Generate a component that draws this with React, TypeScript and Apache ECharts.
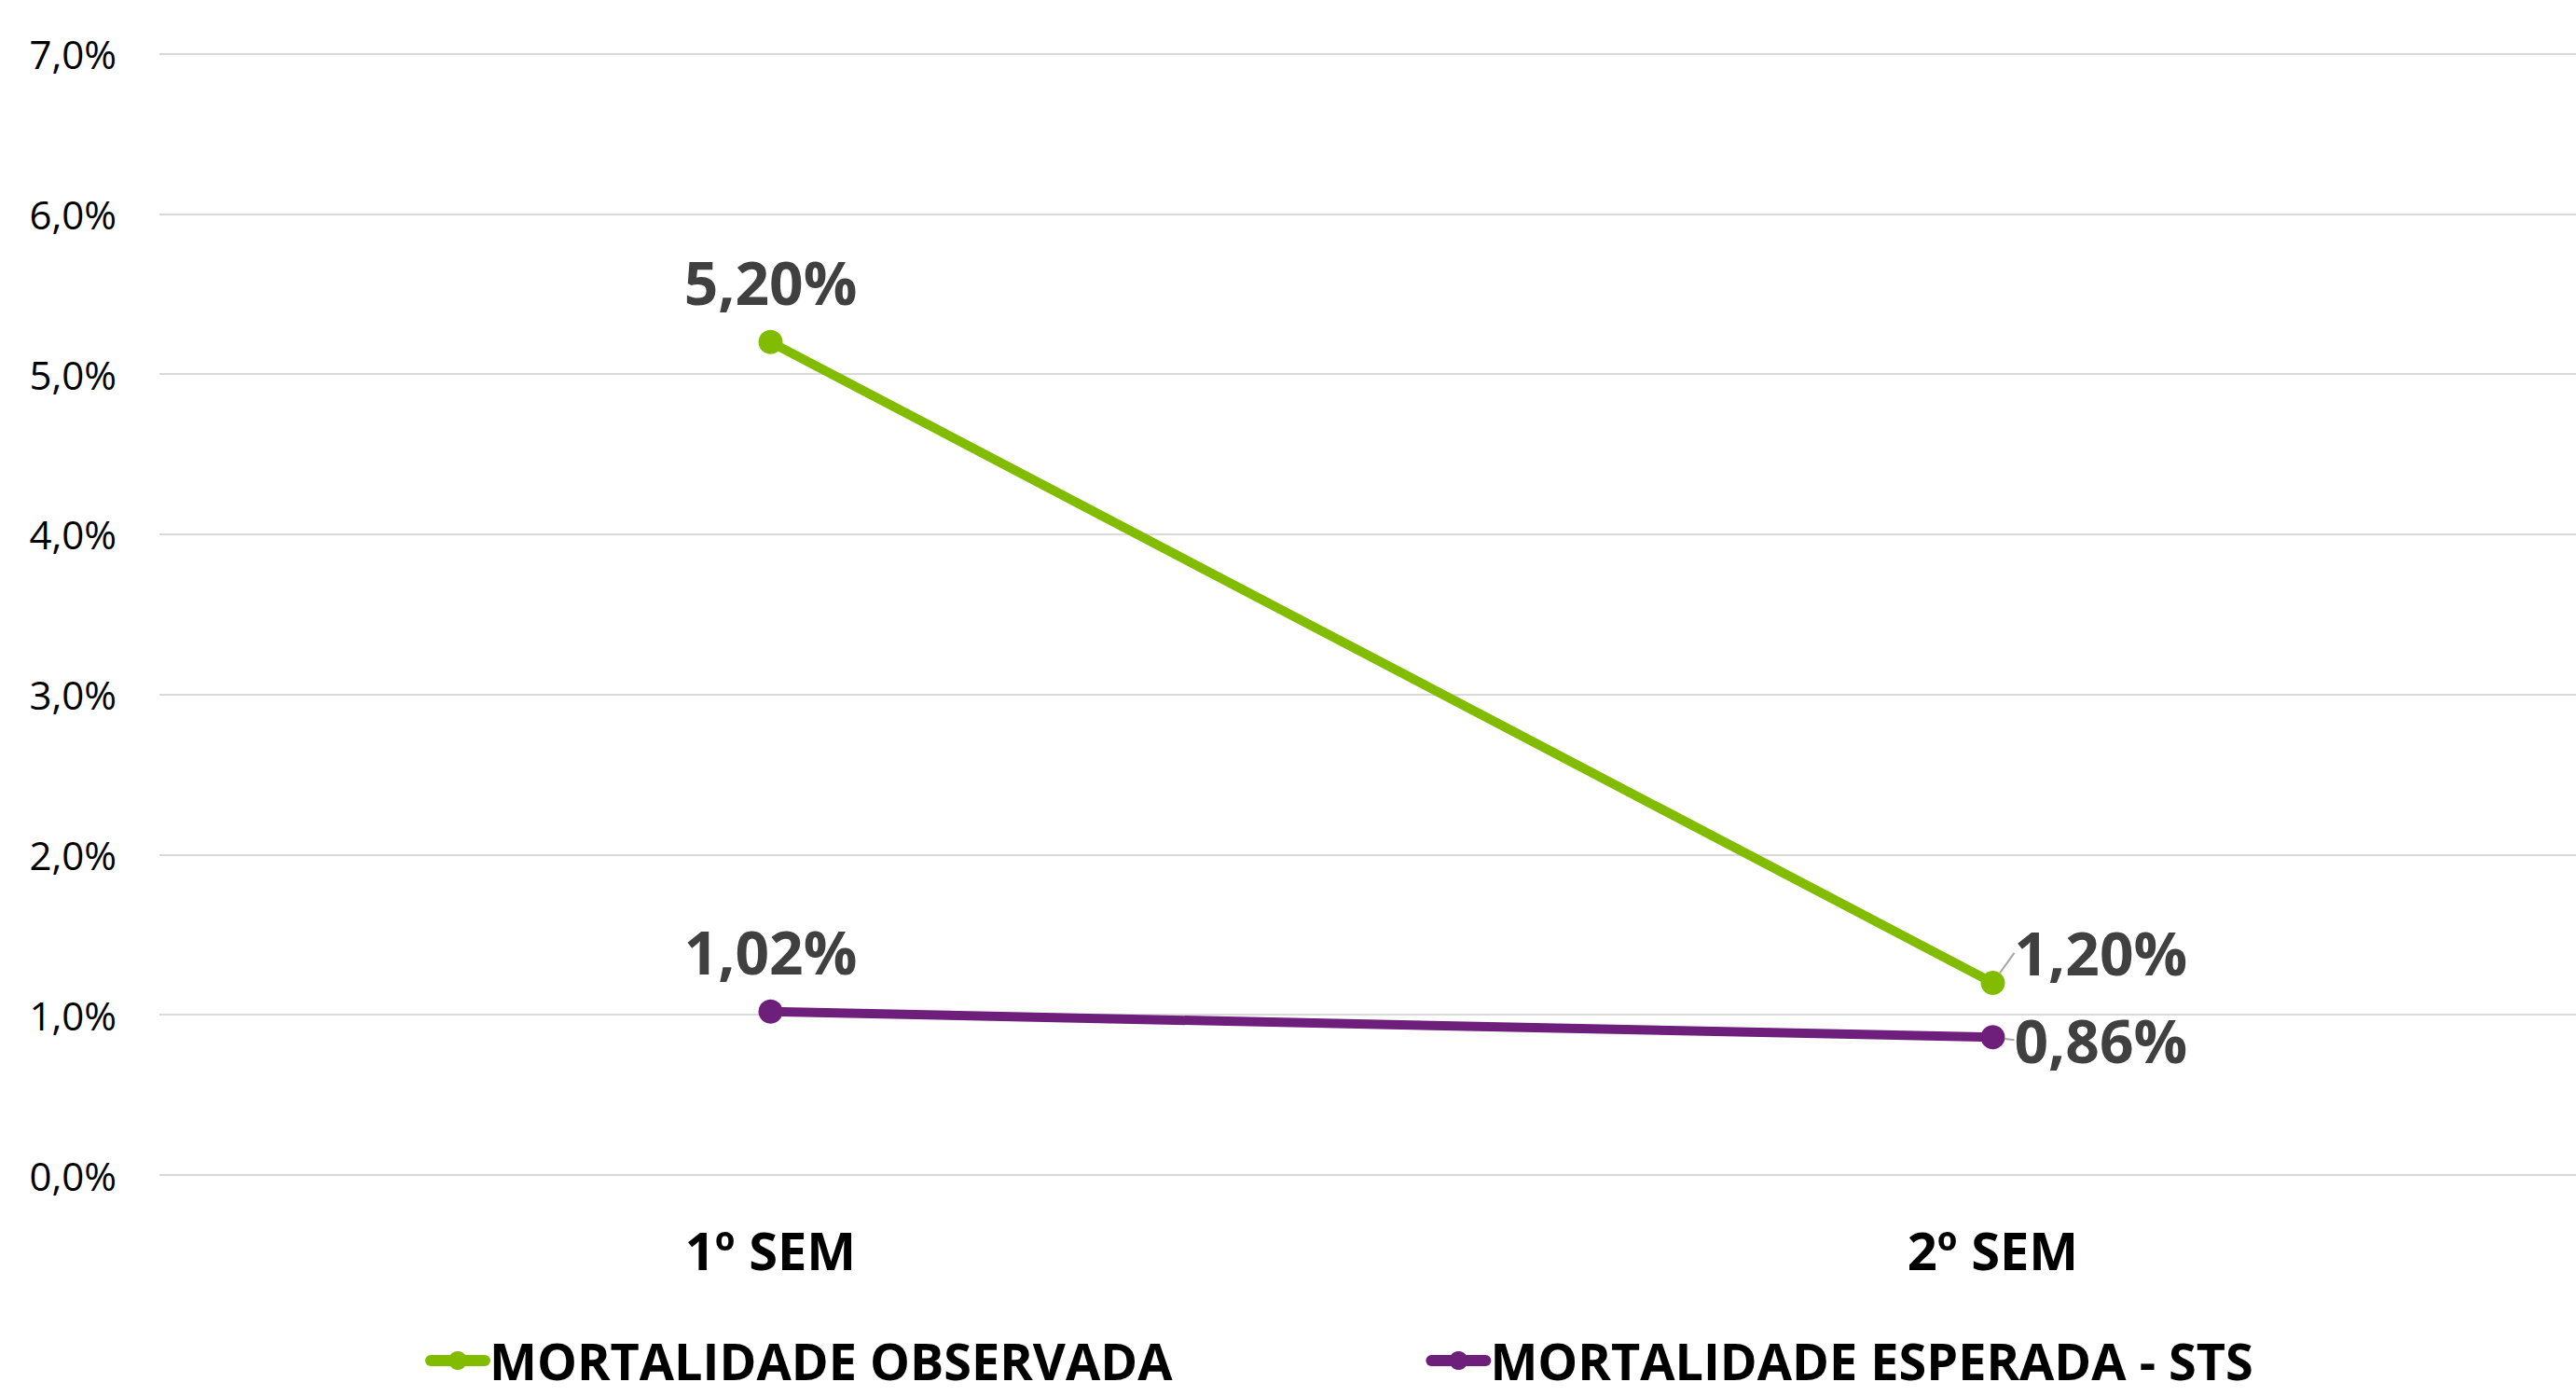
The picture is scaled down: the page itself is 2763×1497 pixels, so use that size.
import React, { useEffect, useRef } from "react";
import * as echarts from "echarts";

const categories = ["1º SEM", "2º SEM"];
const observada = [5.2, 1.2];
const esperada = [1.02, 0.86];
const seriesNames = ["MORTALIDADE OBSERVADA", "MORTALIDADE ESPERADA - STS"];
const yMin = 0;
const yMax = 7;
const yStep = 1;

const GREEN = "#82BC00";
const PURPLE = "#6E1F7B";
const FONT = "'Open Sans', 'Noto Sans', sans-serif";

const fmtPct = (v: number, d: number) => v.toFixed(d).replace(".", ",") + "%";

export default function App() {
  const ref = useRef<HTMLDivElement>(null);
  useEffect(() => {
    if (!ref.current) return;
    const chart = echarts.init(ref.current, null, { renderer: "svg" });
    const labelBase = {
      show: true,
      fontFamily: FONT,
      fontWeight: "bold" as const,
      fontSize: 64,
      color: "#404040",
      formatter: (p: any) => fmtPct(p.value, 2),
    };
    const guide = { show: true, lineStyle: { color: "#a6a6a6", width: 2 } };
    chart.setOption({
      animation: false,
      backgroundColor: "#ffffff",
      grid: {
        left: 171,
        top: 57.7,
        width: 2622,
        height: 1202.3,
        containLabel: false,
        outerBoundsMode: "none",
      },
      legend: {
        left: 451,
        top: 1427,
        itemWidth: 58,
        itemHeight: 25,
        itemGap: 272,
        lineStyle: { width: 12, cap: "round" },
        textStyle: { fontFamily: FONT, fontWeight: "bold", fontSize: 54, color: "#000", lineHeight: 46 },
        data: seriesNames,
      },
      xAxis: {
        type: "category",
        data: categories,
        boundaryGap: true,
        axisLine: { show: false },
        axisTick: { show: false },
        axisLabel: {
          fontFamily: FONT,
          fontWeight: "bold",
          fontSize: 56,
          color: "#000",
          margin: 52,
        },
      },
      yAxis: {
        type: "value",
        min: yMin,
        max: yMax,
        interval: yStep,
        axisLine: { show: false },
        axisTick: { show: false },
        splitLine: { lineStyle: { color: "#d9d9d9", width: 2 } },
        axisLabel: {
          fontFamily: FONT,
          fontSize: 42,
          color: "#000",
          margin: 46,
          formatter: (v: number) => fmtPct(v, 1),
        },
      },
      series: [
        {
          name: seriesNames[0],
          type: "line",
          data: observada.map((v, i) =>
            i === 1
              ? { value: v, label: { position: "right", distance: 10 }, labelLine: guide }
              : { value: v, labelLine: { show: false } }
          ),
          symbol: "circle",
          symbolSize: 26,
          lineStyle: { color: GREEN, width: 10 },
          itemStyle: { color: GREEN },
          label: { ...labelBase, position: "top", distance: 19 },
          labelLayout: (p: any) => (p.dataIndex === 1 ? { dy: -32 } : {}),
        },
        {
          name: seriesNames[1],
          type: "line",
          data: esperada.map((v, i) =>
            i === 1
              ? { value: v, label: { position: "right", distance: 10 }, labelLine: guide }
              : { value: v, labelLine: { show: false } }
          ),
          symbol: "circle",
          symbolSize: 26,
          lineStyle: { color: PURPLE, width: 10 },
          itemStyle: { color: PURPLE },
          label: { ...labelBase, position: "top", distance: 19 },
          labelLayout: (p: any) => (p.dataIndex === 1 ? { dy: 3 } : {}),
        },
      ],
    });
    return () => chart.dispose();
  }, []);
  return (
    <div
      ref={ref}
      style={{ position: "fixed", left: 0, top: 0, width: 2763, height: 1497, background: "#fff" }}
    />
  );
}
